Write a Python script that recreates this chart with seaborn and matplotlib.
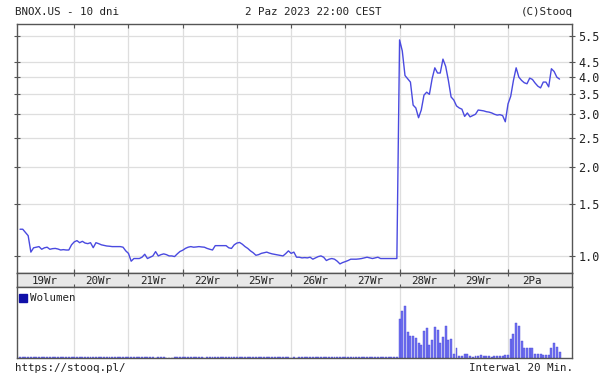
import numpy as np
import pandas as pd
import seaborn as sns
import matplotlib
matplotlib.use("Agg")
import matplotlib.pyplot as plt
from matplotlib.ticker import FixedLocator, FixedFormatter, NullLocator

# ---------------- data ----------------
day_labels = ["19Wr", "20Wr", "21Wr", "22Wr", "25Wr", "26Wr", "27Wr", "28Wr", "29Wr", "2Pa"]
bars_per_day = 20  # 20-minute interval

prices = [
    # 19Wr
    1.23, 1.23, 1.20, 1.17, 1.03, 1.065, 1.07, 1.075, 1.053, 1.065, 1.07, 1.053, 1.058, 1.06, 1.055, 1.047, 1.05, 1.047, 1.047, 1.09,
    # 20Wr
    1.115, 1.126, 1.108, 1.12, 1.105, 1.10, 1.108, 1.066, 1.108, 1.10, 1.09, 1.085, 1.08, 1.078, 1.075, 1.075, 1.075, 1.075, 1.07, 1.04,
    # 21Wr
    1.02, 0.96, 0.98, 0.98, 0.98, 0.99, 1.013, 0.98, 0.99, 1.0, 1.034, 1.0, 1.01, 1.016, 1.01, 1.0, 1.0, 0.995, 1.016, 1.035,
    # 22Wr
    1.045, 1.06, 1.07, 1.075, 1.07, 1.072, 1.075, 1.072, 1.07, 1.06, 1.053, 1.047, 1.083, 1.083, 1.083, 1.083, 1.083, 1.065, 1.06, 1.09,
    # 25Wr
    1.105, 1.11, 1.095, 1.075, 1.06, 1.04, 1.025, 1.005, 1.01, 1.02, 1.025, 1.03, 1.022, 1.016, 1.012, 1.008, 1.004, 1.0, 1.018, 1.04,
    # 26Wr
    1.02, 1.03, 0.99, 0.99, 0.985, 0.987, 0.985, 0.99, 0.975, 0.985, 0.995, 1.0, 0.99, 0.965, 0.975, 0.98, 0.975, 0.96, 0.94, 0.95,
    # 27Wr
    0.957, 0.965, 0.975, 0.975, 0.975, 0.977, 0.98, 0.985, 0.99, 0.985, 0.98, 0.985, 0.99, 0.98, 0.98, 0.98, 0.98, 0.98, 0.98, 0.98,
    # 28Wr
    5.34, 4.9, 4.05, 3.95, 3.85, 3.22, 3.15, 2.92, 3.1, 3.48, 3.56, 3.5, 3.95, 4.3, 4.13, 4.13, 4.6, 4.35, 3.9, 3.43,
    # 29Wr
    3.35, 3.2, 3.15, 3.12, 2.95, 3.03, 2.94, 2.97, 3.0, 3.1, 3.09, 3.08, 3.06, 3.05, 3.03, 3.0, 2.98, 2.99, 2.97, 2.83,
    # 2Pa
    3.25, 3.45, 3.9, 4.3, 4.0, 3.9, 3.83, 3.8, 3.97, 3.93, 3.82, 3.73, 3.68, 3.85, 3.85, 3.71, 4.27, 4.18, 4.0, 3.94,
]

volumes = [
    # 19Wr
    1.5, 1.5, 1.5, 1.5, 1.5, 1.5, 1.5, 1.5, 1.5, 1.5, 1.5, 1.5, 1.5, 1.5, 1.5, 1.5, 1.5, 1.5, 1.5, 1.5,
    # 20Wr
    1.5, 1.5, 1.5, 1.5, 1.5, 1.5, 1.5, 1.5, 1.5, 1.5, 1.5, 1.5, 1.5, 1.5, 1.5, 1.5, 1.5, 1.5, 1.5, 1.5,
    # 21Wr
    1.5, 1.5, 1.5, 1.5, 1.5, 1.5, 1.5, 1.5, 1.5, 1.5, 0, 1.5, 1.5, 1.5, 0, 0, 0, 1.5, 1.5, 1.5,
    # 22Wr
    1.5, 1.5, 1.5, 1.5, 1.5, 1.5, 1.5, 1.5, 0, 1.5, 1.5, 1.5, 1.5, 1.5, 1.5, 1.5, 1.5, 1.5, 1.5, 1.5,
    # 25Wr
    1.5, 1.5, 1.5, 1.5, 1.5, 1.5, 1.5, 1.5, 1.5, 1.5, 1.5, 1.5, 1.5, 1.5, 1.5, 1.5, 1.5, 1.5, 1.5, 1.5,
    # 26Wr
    0, 1.5, 0, 1.5, 1.5, 1.5, 1.5, 1.5, 1.5, 1.5, 1.5, 1.5, 1.5, 1.5, 1.5, 1.5, 1.5, 1.5, 1.5, 1.5,
    # 27Wr
    1.5, 1.5, 1.5, 1.5, 1.5, 1.5, 1.5, 1.5, 1.5, 1.5, 1.5, 1.5, 1.5, 1.5, 1.5, 1.5, 1.5, 1.5, 1.5, 1.5,
    # 28Wr
    39, 46.7, 52.3, 26.3, 21.7, 22.3, 19.7, 14.7, 13.3, 26.7, 29.7, 13.3, 18.3, 30.7, 28.3, 15, 20.7, 32.3, 18, 19,
    # 29Wr
    4, 9.7, 2.3, 2.3, 4, 4, 2, 1.5, 2, 2, 3, 2, 2, 2, 1.5, 2, 2, 2, 2, 3,
    # 2Pa
    3, 19, 24, 35, 32.3, 17.3, 10, 10, 10, 9.7, 4, 4, 4, 3, 3, 3, 10, 14.7, 11.3, 5.7,
]

price_ticks = [1.0, 1.5, 2.0, 2.5, 3.0, 3.5, 4.0, 4.5, 5.5]

# ---------------- figure ----------------
sns.set_style("white")
plt.rcParams["font.family"] = ["DejaVu Sans Mono", "DejaVu Sans"]

W, H = 605, 377
fig = plt.figure(figsize=(W / 100, H / 100), dpi=100)

def rect(x0, y0, x1, y1):
    return [x0 / W, 1 - y1 / H, (x1 - x0) / W, (y1 - y0) / H]

frame_col = "#555555"
grid_col = "#dedede"
line_col = "#4a4ae0"
bar_col = "#7070f0"
txt_col = "#222222"
fs = 7.8

n = len(prices)
df = pd.DataFrame({"t": np.arange(n), "price": prices, "vol": volumes})
xlim = (-1.3, n + 3.6)
bounds = np.arange(bars_per_day, n, bars_per_day)

# price panel
ax = fig.add_axes(rect(16.5, 24, 572, 273))
sns.lineplot(data=df, x="t", y="price", ax=ax, color=line_col, linewidth=1.0)
ax.set_yscale("log")
ax.set_ylim(0.876, 6.04)
ax.set_xlim(*xlim)
ax.yaxis.set_major_locator(FixedLocator(price_ticks))
ax.yaxis.set_major_formatter(FixedFormatter([f"{v:.1f}" for v in price_ticks]))
ax.yaxis.set_minor_locator(NullLocator())
ax.xaxis.set_major_locator(FixedLocator(bounds))
ax.set_xticklabels([])
ax.yaxis.tick_right()
ax.tick_params(axis="y", which="both", right=True, left=True, direction="inout",
               length=5, width=0.8, color=frame_col, labelsize=8.5, pad=2, labelcolor=txt_col)
ax.tick_params(axis="x", top=True, bottom=True, direction="in", length=3, width=0.8, color=frame_col)
ax.grid(True, color=grid_col, linewidth=0.9)
ax.set_xlabel("")
ax.set_ylabel("")
for s in ax.spines.values():
    s.set_color(frame_col)
    s.set_linewidth(1.0)

# date strip
axd = fig.add_axes(rect(16.5, 273, 572, 287))
axd.set_facecolor("#e8e8e8")
axd.set_xlim(*xlim)
axd.set_ylim(0, 1)
axd.xaxis.set_major_locator(FixedLocator(bounds))
axd.set_xticklabels([])
axd.set_yticks([])
axd.tick_params(axis="x", top=True, bottom=True, direction="inout", length=4, width=0.8, color=frame_col)
for i, lab in enumerate(day_labels):
    axd.text(i * bars_per_day + bars_per_day / 2 - 1.0, 0.45, lab, ha="center", va="center",
             fontsize=fs, color=txt_col)
for s in axd.spines.values():
    s.set_color(frame_col)
    s.set_linewidth(1.0)

# volume panel
axv = fig.add_axes(rect(16.5, 287, 572, 358))
sns.barplot(data=df, x="t", y="vol", ax=axv, native_scale=True, color=bar_col,
            width=0.72, linewidth=0.3, edgecolor="#4a4ad8", errorbar=None, saturation=1)
axv.set_xlim(*xlim)
axv.set_ylim(0, 71)
axv.xaxis.set_major_locator(FixedLocator(bounds))
axv.set_xticklabels([])
axv.set_yticks([])
axv.tick_params(axis="x", top=False, bottom=False)
axv.grid(True, axis="x", color=grid_col, linewidth=0.9)
axv.set_axisbelow(True)
axv.set_xlabel("")
axv.set_ylabel("")
for s in axv.spines.values():
    s.set_color(frame_col)
    s.set_linewidth(1.0)
axv.plot([0.012], [0.85], marker="s", markersize=6, color="#1010a8", transform=axv.transAxes,
         clip_on=False, linestyle="none")
axv.text(0.025, 0.85, "Wolumen", transform=axv.transAxes, ha="left", va="center",
         fontsize=fs, color=txt_col)

# header / footer text
fig.text(15 / W, 1 - 12 / H, "BNOX.US - 10 dni", ha="left", va="center", fontsize=fs, color=txt_col)
fig.text(313 / W, 1 - 12 / H, "2 Paz 2023 22:00 CEST", ha="center", va="center", fontsize=fs, color=txt_col)
fig.text(573 / W, 1 - 12 / H, "(C)Stooq", ha="right", va="center", fontsize=fs, color=txt_col)
fig.text(15 / W, 1 - 368 / H, "https://stooq.pl/", ha="left", va="center", fontsize=fs, color=txt_col)
fig.text(573 / W, 1 - 368 / H, "Interwal 20 Min.", ha="right", va="center", fontsize=fs, color=txt_col)

fig.savefig("out.png", dpi=100)
